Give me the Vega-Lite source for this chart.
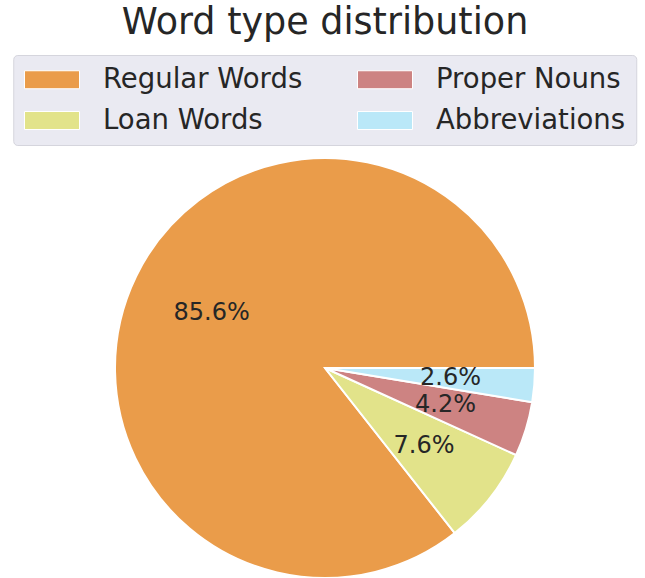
{
  "$schema": "https://vega.github.io/schema/vega-lite/v6.json",
  "autosize": "none",
  "width": 420,
  "height": 420,
  "padding": {"left": 115, "top": 158, "right": 110, "bottom": 0},
  "background": "white",
  "title": {
    "text": "Word type distribution",
    "font": "DejaVu Sans",
    "fontSize": 36.5,
    "fontWeight": "normal",
    "color": "#262626",
    "anchor": "middle",
    "frame": "group",
    "baseline": "alphabetic",
    "offset": -16
  },
  "data": {
    "values": [
      {"type": "Regular Words", "share": 85.6, "label": "85.6%", "ord": 4},
      {"type": "Loan Words", "share": 7.6, "label": "7.6%", "ord": 3},
      {"type": "Proper Nouns", "share": 4.2, "label": "4.2%", "ord": 2},
      {"type": "Abbreviations", "share": 2.6, "label": "2.6%", "ord": 1}
    ]
  },
  "encoding": {
    "theta": {"field": "share", "type": "quantitative", "stack": true, "scale": {"range": [1.5707963, 7.8539816]}},
    "order": {"field": "ord", "type": "quantitative", "sort": "ascending"}
  },
  "layer": [
    {
      "mark": {"type": "arc", "outerRadius": 210, "stroke": "white", "strokeWidth": 2},
      "encoding": {
        "color": {
          "field": "type",
          "type": "nominal",
          "scale": {
            "domain": ["Regular Words", "Loan Words", "Proper Nouns", "Abbreviations"],
            "range": ["#EA9C4A", "#E2E38A", "#CD8382", "#BAE8F8"]
          },
          "legend": {
            "title": null,
            "orient": "none",
            "legendX": -101.75,
            "legendY": -103,
            "columns": 2,
            "columnPadding": 54,
            "rowPadding": 12,
            "padding": 10.75,
            "clipHeight": 27.5,
            "fillColor": "#EAEAF2",
            "strokeColor": "#D5D5DD",
            "cornerRadius": 4,
            "symbolType": "M-1,-0.327H1V0.327H-1Z",
            "symbolSize": 3025,
            "symbolStrokeColor": "white",
            "symbolStrokeWidth": 1,
            "symbolOpacity": 1,
            "labelFont": "DejaVu Sans",
            "labelFontSize": 27.5,
            "labelColor": "#262626",
            "labelOffset": 23,
            "labelLimit": 400
          }
        }
      }
    },
    {
      "mark": {"type": "text", "radius": 126, "font": "DejaVu Sans", "fontSize": 24, "color": "#262626", "align": "center", "baseline": "middle"},
      "encoding": {
        "text": {"field": "label", "type": "nominal"}
      }
    }
  ]
}
